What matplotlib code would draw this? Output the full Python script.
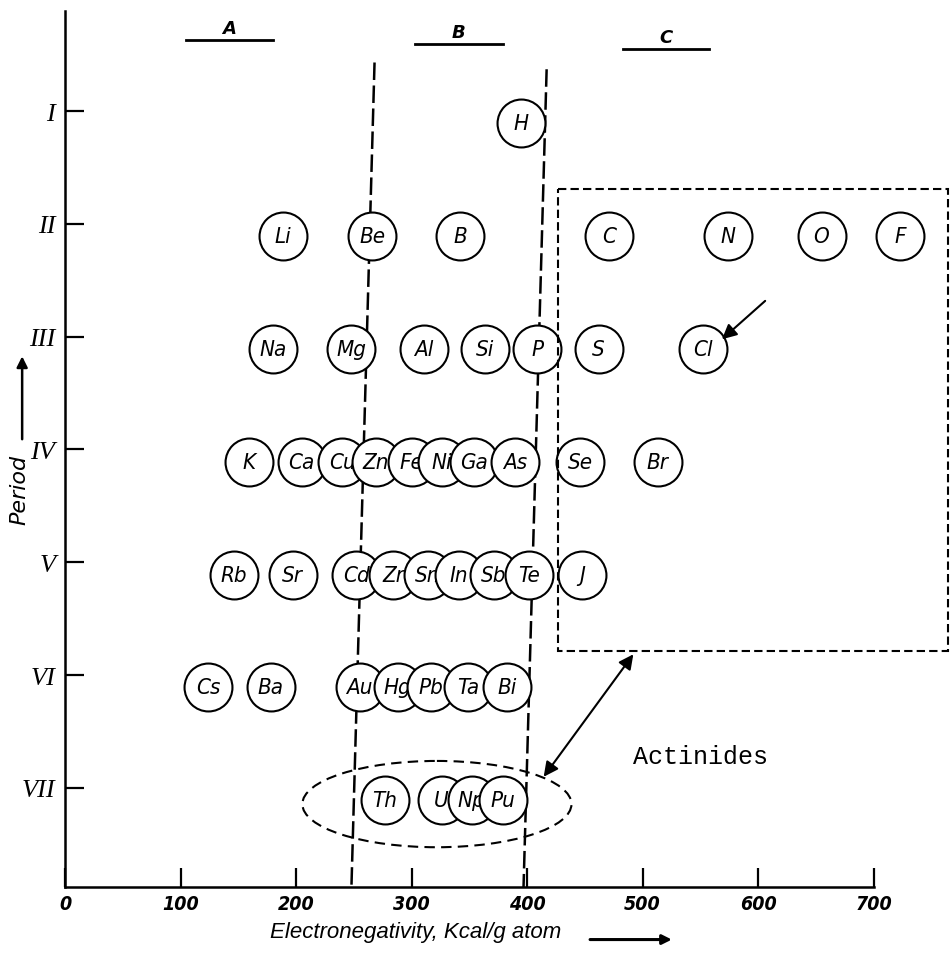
import matplotlib
matplotlib.use("Agg")
import matplotlib.pyplot as plt
from matplotlib import font_manager as fm
from matplotlib.patches import Ellipse, Rectangle

fonts = fm.fontManager.ttflist
names = {f.name for f in fonts}
if 'Liberation Sans Narrow' in names:
    LABEL_FONT = dict(family=['Liberation Sans Narrow', 'DejaVu Sans'], fontsize=16)
    TICK_FONT = dict(family=['Liberation Sans Narrow', 'DejaVu Sans'], fontsize=15)
elif any(f.name == 'DejaVu Sans' and f.stretch == 'condensed' for f in fonts):
    LABEL_FONT = dict(family=['DejaVu Sans'], fontstretch='condensed', fontsize=16)
    TICK_FONT = dict(family=['DejaVu Sans'], fontstretch='condensed', fontsize=14)
else:
    LABEL_FONT = dict(family=['Liberation Sans', 'DejaVu Sans'], fontsize=14)
    TICK_FONT = dict(family=['Liberation Sans', 'DejaVu Sans'], fontsize=13)

# ---------------- data ----------------
symbols = ['H',
           'Li', 'Be', 'B', 'C', 'N', 'O', 'F',
           'Na', 'Mg', 'Al', 'Si', 'P', 'S', 'Cl',
           'K', 'Ca', 'Cu', 'Zn', 'Fe', 'Ni', 'Ga', 'As', 'Se', 'Br',
           'Rb', 'Sr', 'Cd', 'Zr', 'Sn', 'In', 'Sb', 'Te', 'J',
           'Cs', 'Ba', 'Au', 'Hg', 'Pb', 'Ta', 'Bi',
           'Th', 'U', 'Np', 'Pu']
electroneg = [395,
              189, 266, 342, 471, 574, 655, 723,
              180, 248, 311, 364, 409, 462, 552,
              159, 205, 240, 269, 300, 326, 354, 390, 446, 513,
              146, 197, 252, 284, 314, 341, 371, 402, 448,
              124, 178, 255, 288, 317, 349, 383,
              277, 326, 352, 379]
periods = [1,
           2, 2, 2, 2, 2, 2, 2,
           3, 3, 3, 3, 3, 3, 3,
           4, 4, 4, 4, 4, 4, 4, 4, 4, 4,
           5, 5, 5, 5, 5, 5, 5, 5, 5,
           6, 6, 6, 6, 6, 6, 6,
           7, 7, 7, 7]
period_ticks = [1, 2, 3, 4, 5, 6, 7]
period_labels = ['I', 'II', 'III', 'IV', 'V', 'VI', 'VII']
x_ticks = [0, 100, 200, 300, 400, 500, 600, 700]

group_names = ['A', 'B', 'C']
group_start = [105, 303, 483]
group_end = [180, 379, 558]

# boundary dashed lines (x at top, x at bottom)
boundary_top_x = [268, 417]
boundary_bottom_x = [248, 397]
boundary_top_p = [0.57, 0.63]

# ---------------- figure ----------------
W, H = 951, 954
fig = plt.figure(figsize=(W / 100, H / 100), dpi=100)
ax = fig.add_axes([65 / W, 66 / H, 808.5 / W, 876 / H])
ax.set_xlim(0, 700)
ax.set_ylim(7.879, 0.1135)

for s in ['top', 'right']:
    ax.spines[s].set_visible(False)
for s in ['left', 'bottom']:
    ax.spines[s].set_linewidth(1.8)

ax.set_xticks(x_ticks)
ax.set_xticklabels([str(v) for v in x_ticks], style='italic', fontweight='bold', **TICK_FONT)
ax.set_yticks(period_ticks)
ax.set_yticklabels(period_labels, fontsize=19, style='italic',
                   family=['Liberation Serif', 'DejaVu Serif'])
ax.tick_params(axis='x', direction='in', length=14, width=1.6, pad=5)
ax.tick_params(axis='y', direction='in', length=14, width=1.6, pad=7)

ax.set_xlabel('Electronegativity, Kcal/g atom', fontsize=16, style='italic',
              family=['Liberation Sans', 'DejaVu Sans'], va='center')
ax.xaxis.set_label_coords(0.434, -0.051)
ax.annotate('', xy=(0.754, -0.060), xytext=(0.646, -0.060), xycoords='axes fraction',
            arrowprops=dict(arrowstyle='-|>', lw=2.2, color='black', mutation_scale=14),
            annotation_clip=False)

ax.set_ylabel('Period', fontsize=16, style='italic', family=['DejaVu Sans'], va='center')
ax.yaxis.set_label_coords(-0.056, 0.454)
ax.annotate('', xy=(-0.053, 0.609), xytext=(-0.053, 0.508), xycoords='axes fraction',
            arrowprops=dict(arrowstyle='-|>', lw=1.8, color='black', mutation_scale=16),
            annotation_clip=False)

# group headers
for name, a, b, i in zip(group_names, group_start, group_end, range(3)):
    py = 0.37 + 0.04 * i
    ax.plot([a, b], [py, py], color='black', lw=2.0, clip_on=False)
    ax.text((a + b) / 2, py - 0.03, name, ha='center', va='bottom', fontsize=13,
            style='italic', fontweight='bold')

# dashed boundaries
for xt, xb, pt in zip(boundary_top_x, boundary_bottom_x, boundary_top_p):
    ax.plot([xt, xb], [pt, 7.879], color='black', lw=1.8,
            linestyle=(0, (7, 2.2)), zorder=1, clip_on=False)

# elements
ROW_SHIFT = 0.11
for i, (sym, x, p) in enumerate(zip(symbols, electroneg, periods)):
    y = p + ROW_SHIFT
    ax.scatter([x], [y], s=1190, facecolor='white', edgecolor='black',
               linewidth=1.5, zorder=3 + 2 * i, clip_on=False)
    ax.text(x, y, sym, ha='center', va='center', style='italic',
            zorder=4 + 2 * i, **LABEL_FONT)

# dashed rectangle of non-metals
rect = Rectangle((427, 1.687), 764.5 - 427, 5.79 - 1.687, fill=False,
                 edgecolor='black', lw=1.5, linestyle=(0, (4, 2)), clip_on=False,
                 zorder=200)
ax.add_patch(rect)

# actinides ellipse
ell = Ellipse((322, 7.144), 233, 0.765, fill=False, edgecolor='black', lw=1.5,
              linestyle=(0, (5, 3)), zorder=2)
ax.add_patch(ell)

# arrows
ax.annotate('', xy=(567, 3.04), xytext=(608, 2.667),
            arrowprops=dict(arrowstyle='-|>', lw=1.5, color='black', mutation_scale=22),
            zorder=300)
ax.annotate('', xy=(493.5, 5.796), xytext=(413, 6.922),
            arrowprops=dict(arrowstyle='<|-|>', lw=1.5, color='black', mutation_scale=22),
            zorder=300)

ax.text(492, 6.72, 'Actinides', ha='left', va='center', fontsize=18,
        family=['Liberation Mono', 'DejaVu Sans Mono'])

fig.savefig('out.png', dpi=100)
